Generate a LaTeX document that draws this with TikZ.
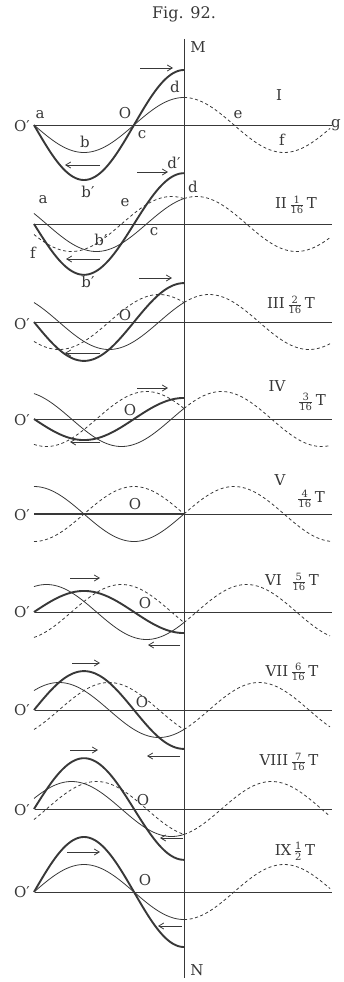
\documentclass[tikz,border=0pt]{standalone}
\usepackage{fontspec}
\setmainfont{DejaVu Serif}
\usetikzlibrary{arrows.meta}
\definecolor{ink}{gray}{0.22}
\tikzset{
  thinw/.style={draw=ink,line width=0.8pt},
  thickw/.style={draw=ink,line width=1.9pt},
  dashw/.style={draw=ink,line width=0.8pt,dash pattern=on 3pt off 2.6pt},
  axisl/.style={draw=ink,line width=0.9pt},
  lbl/.style={font=\fontsize{15}{15}\selectfont,text=ink,inner sep=0pt},
  arr/.style={draw=ink,line width=0.8pt,-{Straight Barb[length=5pt,width=6pt]}}
}
\newcommand\fr[2]{$\frac{\hbox{\fontsize{10}{10}\selectfont #1}}{\hbox{\fontsize{10}{10}\selectfont #2}}$}
\newcommand\wavepanel[2]{%
  \draw[axisl] (35,#1) -- (332,#1);
  \draw[thinw] plot[domain=-150:0,samples=90,smooth,variable=\xx] ({184+\xx},{#1-27.5*cos(1.8*\xx-22.5*#2)});
  \draw[dashw] plot[domain=0:146,samples=90,smooth,variable=\xx] ({184+\xx},{#1-27.5*cos(1.8*\xx-22.5*#2)});
  \draw[thickw] plot[domain=-150:0,samples=90,smooth,variable=\xx] ({184+\xx},{#1-55*cos(1.8*\xx)*cos(22.5*#2)});
}
\newcommand\leftdash[2]{%
  \draw[dashw] plot[domain=-150:0,samples=90,smooth,variable=\xx] ({184+\xx},{#1-27.5*cos(1.8*\xx+22.5*#2)});
}
\newcommand\flowarr[4]{\coordinate (#1s) at (#2,#3); \coordinate (#1e) at (#4,#3); \draw[arr] (#1s) -- (#1e);}
\begin{document}
\begin{tikzpicture}[x=1pt,y=-1pt]
\useasboundingbox (0,0) rectangle (344,982);
\node[lbl,font=\fontsize{16}{16}\selectfont] (fig) at (184,14) {Fig. 92.};
% vertical wall
\coordinate (top) at (184,39);
\coordinate (bot) at (184,978);
\draw[axisl] (top) -- (bot);
\node[lbl] (M) at (198,47) {M};
\node[lbl] (N) at (197,970) {N};
% panels
\wavepanel{125}{0}
\wavepanel{224}{1} \leftdash{224}{1}
\wavepanel{322}{2} \leftdash{322}{2}
\wavepanel{419}{3} \leftdash{419}{3}
\wavepanel{514}{4} \leftdash{514}{4}
\wavepanel{612}{5} \leftdash{612}{5}
\wavepanel{710}{6} \leftdash{710}{6}
\wavepanel{809}{7} \leftdash{809}{7}
\wavepanel{892}{8}
% arrows
\flowarr{r1}{140}{68}{173}  \flowarr{l1}{100}{165}{65}
\flowarr{r2}{137}{172}{168} \flowarr{l2}{100}{259}{66}
\flowarr{r3}{139}{278}{172} \flowarr{l3}{100}{353}{65}
\flowarr{r4}{137}{388}{168} \flowarr{l4}{100}{442}{70}
\flowarr{r6}{70}{578}{100}  \flowarr{l6}{180}{645}{148}
\flowarr{r7}{72}{663}{100}  \flowarr{l7}{180}{756}{147}
\flowarr{r8}{70}{750}{98}   \flowarr{l8}{183}{838}{160}
\flowarr{r9}{67}{852}{100}  \flowarr{l9}{182}{926}{158}
% panel I labels
\node[lbl] (IOp) at (22,126) {O′};
\node[lbl] (Ia) at (40,115) {a};
\node[lbl] (Ib) at (85,142) {b};
\node[lbl] (Ibp) at (88,192) {b′};
\node[lbl] (IO) at (125,113) {O};
\node[lbl] (Ic) at (142,135) {c};
\node[lbl] (Id) at (175,87) {d};
\node[lbl] (Ie) at (238,115) {e};
\node[lbl] (If) at (282,140) {f};
\node[lbl] (Ig) at (336,125) {g};
\node[lbl] (Inum) at (279,95) {I};
% panel II labels
\node[lbl] (IIa) at (43,200) {a};
\node[lbl] (IIe) at (125,203) {e};
\node[lbl] (IIdp) at (174,163) {d′};
\node[lbl] (IId) at (193,187) {d};
\node[lbl] (IIc) at (154,232) {c};
\node[lbl] (IIbp) at (101,240) {b′};
\node[lbl] (IIf) at (33,253) {f};
\node[lbl] (IIbpp) at (88,282) {b′};
\node[lbl] (IInum) at (296,205) {II\,\fr{1}{16}\,T};
% panel III
\node[lbl] (IIIOp) at (22,324) {O′};
\node[lbl] (IIIO) at (125,315) {O};
\node[lbl] (IIInum) at (291,305) {III\,\fr{2}{16}\,T};
% panel IV
\node[lbl] (IVOp) at (22,420) {O′};
\node[lbl] (IVO) at (130,410) {O};
\node[lbl] (IVnum) at (277,386) {IV};
\node[lbl] (IVt) at (312,402) {\fr{3}{16}\,T};
% panel V
\node[lbl] (VOp) at (22,515) {O′};
\node[lbl] (VO) at (135,504) {O};
\node[lbl] (Vnum) at (280,480) {V};
\node[lbl] (Vt) at (311,499) {\fr{4}{16}\,T};
% panel VI
\node[lbl] (VIOp) at (22,612) {O′};
\node[lbl] (VIO) at (145,603) {O};
\node[lbl] (VInum) at (292,582) {VI\ \ \fr{5}{16}\,T};
% panel VII
\node[lbl] (VIIOp) at (22,710) {O′};
\node[lbl] (VIIO) at (142,702) {O};
\node[lbl] (VIInum) at (292,672) {VII\,\fr{6}{16}\,T};
% panel VIII
\node[lbl] (VIIIOp) at (22,810) {O′};
\node[lbl] (VIIIO) at (143,800) {O};
\node[lbl] (VIIInum) at (289,762) {VIII\,\fr{7}{16}\,T};
% panel IX
\node[lbl] (IXOp) at (22,892) {O′};
\node[lbl] (IXO) at (145,880) {O};
\node[lbl] (IXnum) at (295,851) {IX\,\fr{1}{2}\,T};
\end{tikzpicture}
\end{document}
